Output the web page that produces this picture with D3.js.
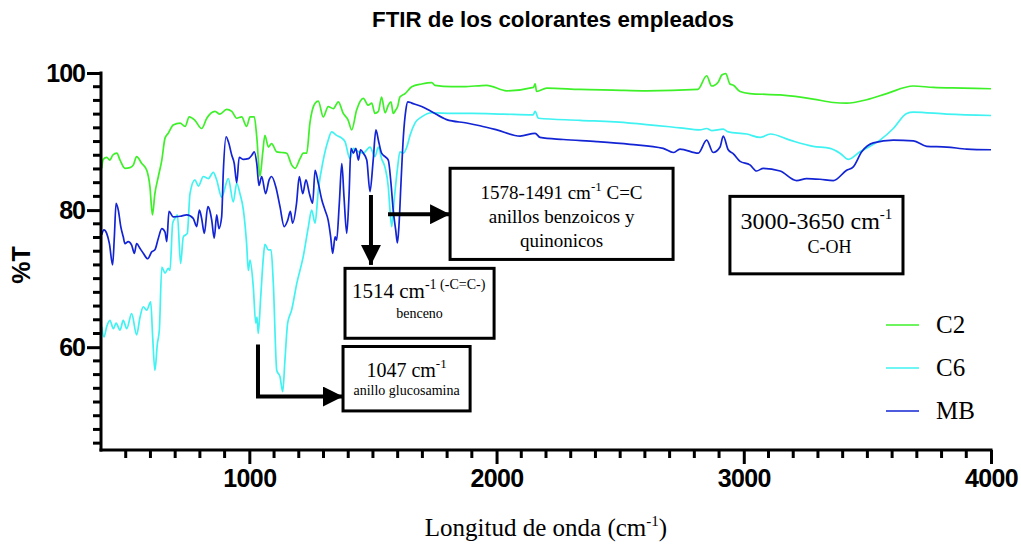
<!DOCTYPE html>
<html>
<head>
<meta charset="utf-8">
<script src="https://cdn.jsdelivr.net/npm/d3@7"></script>
<style>
  html, body { margin: 0; padding: 0; background: #fff; }
  svg { display: block; }
</style>
</head>
<body>
<svg id="chart" width="1021" height="546"></svg>
<script>
// FTIR spectra: wavenumber (cm-1) and transmittance (%T) for each dye
const c2Wavenumber = [403,409,423,436,447,464,477,497,517,531,544,565,585,598,608,618,632,646,659,672,692,720,740,757,780,807,828,861,881,908,929,949,969,989,1003,1020,1030,1043,1054,1063,1077,1090,1111,1131,1151,1171,1185,1205,1218,1232,1245,1266,1279,1299,1319,1340,1360,1380,1400,1414,1434,1461,1481,1495,1508,1522,1535,1549,1562,1573,1582,1592,1600,1609,1630,1657,1697,1738,1751,1819,1866,1960,2041,2149,2156,2162,2203,2338,2472,2607,2814,2850,2870,2897,2911,2927,2944,2958,2985,3025,3147,3281,3362,3416,3497,3578,3686,3767,3888,4000];
const c2Transmittance = [86.1,87.4,87.7,87.3,88.0,88.3,87.3,86.1,86.2,86.6,87.8,86.8,85.8,83.4,79.3,82.4,84.9,87.3,90.5,91.2,92.4,92.7,92.2,93.6,93.1,91.9,93.4,94.4,94.0,94.7,94.4,93.4,93.6,92.2,93.6,93.6,90.7,84.9,88.3,90.9,89.2,89.7,88.5,88.4,88.3,86.6,86.1,87.5,88.3,88.3,92.7,95.6,95.9,93.6,95.1,94.8,95.8,94.1,93.1,91.7,94.6,96.3,95.3,95.6,94.1,94.4,96.5,94.2,95.3,95.8,94.1,94.6,95.1,96.5,97.0,98.0,98.4,98.6,98.2,98.0,98.0,98.2,97.4,97.9,98.4,97.3,97.8,97.6,97.5,97.4,97.6,99.6,98.1,98.7,99.7,99.9,98.4,98.2,97.3,97.0,96.8,96.2,95.7,95.6,96.1,97.0,98.1,97.9,97.8,97.7];

const c6Wavenumber = [403,412,423,436,450,461,477,490,504,524,544,558,571,585,601,609,618,628,636,646,659,672,679,690,699,709,722,733,749,760,780,794,814,834,854,868,888,915,935,949,962,976,989,996,1003,1016,1026,1031,1036,1046,1057,1063,1077,1088,1097,1111,1124,1135,1144,1155,1171,1192,1218,1239,1252,1266,1279,1299,1319,1333,1353,1374,1387,1407,1421,1441,1461,1488,1508,1522,1535,1549,1562,1569,1576,1586,1600,1609,1623,1637,1650,1670,1697,1738,1819,1900,2027,2148,2156,2169,2338,2540,2742,2822,2850,2870,2917,2937,3012,3066,3107,3187,3281,3349,3389,3423,3470,3551,3605,3659,3686,3821,4000];
const c6Transmittance = [63.0,61.5,63.0,63.9,62.7,63.5,62.5,63.9,62.7,64.9,61.8,64.4,65.9,65.4,66.6,61.5,56.6,60.5,62.5,71.7,70.8,71.5,71.2,78.1,78.8,79.3,72.2,76.1,76.6,82.4,84.4,83.5,84.9,84.6,85.5,84.4,81.9,84.6,81.2,83.9,82.4,80.0,75.1,71.2,72.7,68.8,63.5,64.4,62.0,67.3,73.2,75.0,74.2,74.2,69.3,56.6,55.7,53.5,58.1,63.5,65.4,69.3,73.2,77.6,80.0,78.1,82.9,87.3,90.2,91.4,90.9,90.5,90.0,87.5,89.0,88.5,88.3,89.2,87.8,89.2,87.5,86.2,83.4,80.0,77.6,81.5,86.3,88.5,88.3,89.2,90.9,92.7,93.6,94.2,94.1,94.1,94.0,93.9,94.4,93.4,93.1,92.7,92.0,91.7,91.9,91.6,91.8,91.4,91.1,90.6,91.1,90.2,89.3,89.0,88.3,87.4,88.5,90.2,91.9,94.1,94.3,94.0,93.8];

const mbWavenumber = [403,412,423,434,447,454,461,470,480,490,497,510,524,535,544,558,571,589,605,618,632,646,659,666,675,692,720,747,773,787,798,807,818,832,841,848,858,868,877,888,895,906,915,929,939,949,959,976,996,1010,1020,1030,1039,1050,1066,1080,1090,1107,1124,1141,1155,1166,1175,1191,1202,1216,1229,1243,1256,1266,1279,1293,1306,1319,1329,1337,1347,1353,1364,1374,1383,1394,1403,1411,1421,1431,1441,1450,1461,1475,1488,1501,1512,1522,1535,1549,1562,1573,1582,1592,1599,1605,1614,1623,1633,1641,1657,1697,1731,1798,1879,1933,2001,2095,2156,2176,2270,2405,2540,2674,2715,2742,2816,2850,2876,2904,2917,2937,2958,2985,3025,3052,3079,3147,3214,3254,3308,3362,3416,3443,3477,3524,3605,3686,3740,3821,3902,4000];
const mbTransmittance = [76.4,77.1,76.6,75.1,72.0,76.1,81.0,80.0,77.6,76.1,75.1,75.4,74.9,73.7,75.1,74.4,73.7,72.9,73.9,74.2,75.9,77.3,76.8,75.4,79.8,79.0,79.1,79.3,78.8,77.6,80.0,78.8,76.6,80.5,79.8,78.5,75.9,79.3,77.3,79.0,85.8,90.7,90.0,88.0,86.8,84.0,87.7,87.4,87.5,88.0,88.5,86.8,83.6,84.9,82.4,84.4,84.9,83.4,80.5,77.6,78.5,79.8,78.1,81.0,84.9,82.4,84.4,82.4,81.0,85.8,83.9,81.5,80.0,78.5,76.1,73.7,76.1,75.6,81.0,86.8,81.9,76.6,81.9,89.0,88.3,89.0,87.3,88.8,88.3,87.3,82.7,87.3,91.7,90.2,88.3,87.8,87.3,83.9,80.0,77.1,75.2,77.6,84.4,90.7,94.6,95.8,95.6,95.1,94.5,93.2,92.7,92.3,91.7,90.8,91.2,90.6,90.3,90.0,89.6,89.0,88.4,88.9,88.3,90.2,88.4,89.2,90.8,88.8,88.2,87.1,86.6,85.7,86.1,85.7,84.3,84.6,84.5,84.3,85.8,86.3,88.5,89.8,90.2,90.1,89.3,89.2,88.9,88.8];

const seriesNames = ["C2", "C6", "MB"];
const seriesColors = ["#3df028", "#40f2f2", "#1224d4"];

const xMajorTicks = [1000, 2000, 3000, 4000];
const yMajorTicks = [60, 80, 100];

const titleText = "FTIR de los colorantes empleados";
const yTitle = "%T";

// Layout
const plot = { left: 101, right: 991, top: 73, bottom: 450 };

const svg = d3.select("#chart");

const x = d3.scaleLinear().domain([400, 4000]).range([plot.left, plot.right]);
const y = d3.scaleLinear().domain([45, 100]).range([plot.bottom, plot.top]);

const series = [
  { name: seriesNames[0], color: seriesColors[0], wn: c2Wavenumber, t: c2Transmittance },
  { name: seriesNames[1], color: seriesColors[1], wn: c6Wavenumber, t: c6Transmittance },
  { name: seriesNames[2], color: seriesColors[2], wn: mbWavenumber, t: mbTransmittance }
];

// Spectra
const line = d3.line().x(d => x(d[0])).y(d => y(d[1])).curve(d3.curveMonotoneX);
series.forEach(s => {
  svg.append("path")
    .datum(s.wn.map((w, i) => [w, s.t[i]]))
    .attr("fill", "none")
    .attr("stroke", s.color)
    .attr("stroke-width", 1.7)
    .attr("stroke-linejoin", "round")
    .attr("d", line);
});

// Axes
const sansBold = "'Liberation Sans', Arial, sans-serif";
const serif = "'Liberation Serif', 'Times New Roman', serif";

const xMinor = d3.range(500, 4000, 100).filter(v => !xMajorTicks.includes(v));
const xAxis = svg.append("g").attr("transform", `translate(0,${plot.bottom})`)
  .call(d3.axisBottom(x).tickValues(xMajorTicks).tickSize(14).tickPadding(5).tickSizeOuter(0).tickFormat(d3.format("d")));
xAxis.select(".domain").attr("stroke-width", 3).attr("d", `M${plot.left - 1.5},0H${plot.right + 1.5}`);
xAxis.selectAll(".tick line").attr("stroke-width", 3);
xAxis.selectAll(".tick text").attr("font-family", sansBold).attr("font-weight", "bold")
  .attr("font-size", 25).attr("letter-spacing", -0.6).attr("fill", "#000");
svg.append("g").attr("transform", `translate(0,${plot.bottom})`)
  .selectAll("line").data(xMinor).join("line")
  .attr("x1", d => x(d)).attr("x2", d => x(d)).attr("y1", 0).attr("y2", 8)
  .attr("stroke", "#000").attr("stroke-width", 3);

const yMinor = d3.range(46, 100, 2).filter(v => !yMajorTicks.includes(v));
const yAxis = svg.append("g").attr("transform", `translate(${plot.left},0)`)
  .call(d3.axisLeft(y).tickValues(yMajorTicks).tickSize(14).tickPadding(2).tickSizeOuter(0));
yAxis.select(".domain").attr("stroke-width", 3).attr("d", `M0,${plot.top - 1.5}V${plot.bottom + 1.5}`);
yAxis.selectAll(".tick line").attr("stroke-width", 3);
yAxis.selectAll(".tick text").attr("font-family", sansBold).attr("font-weight", "bold")
  .attr("font-size", 25).attr("letter-spacing", -1).attr("fill", "#000");
svg.append("g").attr("transform", `translate(${plot.left},0)`)
  .selectAll("line").data(yMinor).join("line")
  .attr("y1", d => y(d)).attr("y2", d => y(d)).attr("x1", 0).attr("x2", -8)
  .attr("stroke", "#000").attr("stroke-width", 3);

// Titles
svg.append("text").attr("x", 553).attr("y", 27).attr("text-anchor", "middle")
  .attr("font-family", sansBold).attr("font-weight", "bold").attr("font-size", 22)
  .attr("textLength", 362).attr("lengthAdjust", "spacingAndGlyphs")
  .text(titleText);

svg.append("text").attr("transform", "translate(30,265) rotate(-90)").attr("text-anchor", "middle")
  .attr("font-family", sansBold).attr("font-weight", "bold").attr("font-size", 25)
  .text(yTitle);

const xt = svg.append("text").attr("x", 546).attr("y", 536).attr("text-anchor", "middle")
  .attr("font-family", serif).attr("font-size", 25);
xt.append("tspan").text("Longitud de onda (cm");
xt.append("tspan").attr("font-size", 15).attr("dy", -10).text("-1");
xt.append("tspan").attr("dy", 10).text(")");

// Legend
const legend = svg.append("g");
series.forEach((s, i) => {
  const ly = 325 + i * 43;
  legend.append("line").attr("x1", 886).attr("x2", 919).attr("y1", ly).attr("y2", ly)
    .attr("stroke", s.color).attr("stroke-width", 1.7);
  legend.append("text").attr("x", 936).attr("y", ly + 8).attr("font-family", serif)
    .attr("font-size", 25).text(s.name);
});

// Annotations (positions given in wavenumber / %T units)
const ann = svg.append("g");
svg.append("defs").append("marker").attr("id", "head").attr("viewBox", "0 0 10 10")
  .attr("refX", 10).attr("refY", 5).attr("markerWidth", 5.2).attr("markerHeight", 5)
  .attr("markerUnits", "strokeWidth").attr("orient", "auto")
  .append("path").attr("d", "M0,0L10,5L0,10Z").attr("fill", "#000");

function box(w0, w1, t0, t1) {
  ann.append("rect").attr("x", x(w0)).attr("y", y(t0))
    .attr("width", x(w1) - x(w0)).attr("height", y(t1) - y(t0))
    .attr("fill", "#fff").attr("stroke", "#000").attr("stroke-width", 3);
}
function arrow(points) {
  ann.append("path").attr("d", d3.line()(points.map(p => [x(p[0]), y(p[1])])))
    .attr("fill", "none").attr("stroke", "#000").attr("stroke-width", 4)
    .attr("marker-end", "url(#head)");
}
function label(cx, cy, parts, anchor) {
  const t = ann.append("text").attr("x", cx).attr("y", cy)
    .attr("text-anchor", anchor || "middle").attr("font-family", serif);
  parts.forEach(p => {
    const sp = t.append("tspan").attr("font-size", p.size).text(p.text);
    if (p.dy) sp.attr("dy", p.dy);
  });
  return t;
}

// 1578-1491 cm-1 band
arrow([[1561, 79.4], [1812, 79.4]]);
box(1812, 2714, 86.1, 72.8);
{
  const cx = (x(1812) + x(2714)) / 2;
  label(cx, y(86.1) + 31, [
    { text: "1578-1491 cm", size: 19 },
    { text: "-1", size: 13, dy: -8 },
    { text: " C=C", size: 19, dy: 8 }
  ]);
  label(cx, y(86.1) + 55, [{ text: "anillos benzoicos y", size: 19 }]);
  label(cx, y(86.1) + 79, [{ text: "quinonicos", size: 19 }]);
}

// 1514 cm-1 band
arrow([[1492, 82.2], [1492, 72.0]]);
box(1387, 1990, 71.5, 61.3);
{
  const cx = (x(1387) + x(1990)) / 2;
  label(x(1387) + 7, y(71.5) + 30, [
    { text: "1514 cm", size: 21 },
    { text: "-1", size: 14, dy: -9 },
    { text: " (-C=C-)", size: 14 }
  ], "start");
  label(cx, y(71.5) + 50, [{ text: "benceno", size: 14 }]);
}

// 1047 cm-1 band
arrow([[1035, 60.4], [1035, 52.8], [1379, 52.8]]);
box(1379, 1893, 60.1, 50.7);
{
  const cx = (x(1379) + x(1893)) / 2;
  label(cx, y(60.1) + 31, [
    { text: "1047 cm", size: 20 },
    { text: "-1", size: 13, dy: -9 }
  ]);
  label(cx, y(60.1) + 49, [{ text: "anillo glucosamina", size: 14 }]);
}

// 3000-3650 cm-1 band
box(2944, 3644, 82.0, 70.7);
{
  const cx = (x(2944) + x(3644)) / 2;
  label(cx, y(82.0) + 33, [
    { text: "3000-3650 cm", size: 24 },
    { text: "-1", size: 15, dy: -10 }
  ]);
  label(cx + 13, y(82.0) + 57, [{ text: "C-OH", size: 18 }]);
}
</script>
</body>
</html>
